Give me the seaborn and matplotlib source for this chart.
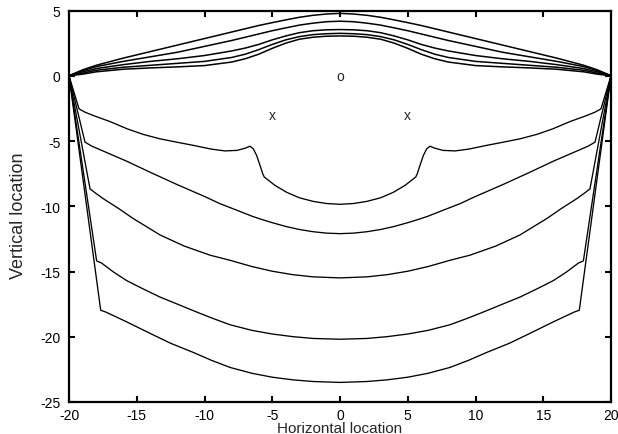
import matplotlib
matplotlib.use("Agg")
import matplotlib.pyplot as plt
import numpy as np
import pandas as pd
import seaborn as sns

# Upper field lines share one x grid
upper_x = [-20, -19, -18, -16, -14, -12, -10, -8, -7, -6, -5, -4, -3, -2, -1, 0,
           1, 2, 3, 4, 5, 6, 7, 8, 10, 12, 14, 16, 18, 19, 20]
upper_1 = [0, 0.45, 0.8, 1.35, 1.85, 2.35, 2.85, 3.35, 3.6, 3.85, 4.07, 4.28, 4.48, 4.63, 4.73, 4.78,
           4.73, 4.63, 4.48, 4.28, 4.07, 3.85, 3.6, 3.35, 2.85, 2.35, 1.85, 1.35, 0.8, 0.45, 0]
upper_2 = [0, 0.4, 0.7, 1.1, 1.45, 1.8, 2.25, 2.7, 2.95, 3.2, 3.45, 3.67, 3.88, 4.03, 4.14, 4.18,
           4.14, 4.03, 3.88, 3.67, 3.45, 3.2, 2.95, 2.7, 2.25, 1.8, 1.45, 1.1, 0.7, 0.4, 0]
upper_3 = [0, 0.3, 0.55, 0.85, 1.1, 1.3, 1.55, 1.9, 2.12, 2.4, 2.75, 3.05, 3.3, 3.45, 3.52, 3.54,
           3.52, 3.45, 3.3, 3.05, 2.75, 2.4, 2.12, 1.9, 1.55, 1.3, 1.1, 0.85, 0.55, 0.3, 0]
upper_4 = [0, 0.2, 0.42, 0.65, 0.8, 0.95, 1.1, 1.4, 1.65, 2.0, 2.4, 2.75, 3.0, 3.15, 3.22, 3.25,
           3.22, 3.15, 3.0, 2.75, 2.4, 2.0, 1.65, 1.4, 1.1, 0.95, 0.8, 0.65, 0.42, 0.2, 0]
upper_5 = [0, 0.12, 0.3, 0.5, 0.6, 0.68, 0.78, 1.05, 1.3, 1.65, 2.1, 2.5, 2.8, 2.95, 3.03, 3.05,
           3.03, 2.95, 2.8, 2.5, 2.1, 1.65, 1.3, 1.05, 0.78, 0.68, 0.6, 0.5, 0.3, 0.12, 0]

# Lower field lines, each with its own x samples
lower_1_x = [-20, -19.26, -18.8, -18.2, -17, -15.7, -14.5, -13.3, -12, -10.8, -9.5, -8.5, -7.6, -7.0,
             -6.64, -6.4, -6.15, -5.9, -5.7, -5.59, -4.8, -3.94, -3, -1.97, -1, 0,
             1, 1.97, 3, 3.94, 4.8, 5.59, 5.7, 5.9, 6.15, 6.4, 6.64, 7.0, 7.6, 8.5, 9.5, 10.8, 12,
             13.3, 14.5, 15.7, 17, 18.2, 18.8, 19.26, 20]
lower_1_y = [0, -2.54, -2.8, -3.05, -3.5, -4.07, -4.5, -4.83, -5.1, -5.34, -5.62, -5.76, -5.72, -5.55,
             -5.4, -5.6, -6.11, -6.88, -7.51, -7.76, -8.4, -8.93, -9.35, -9.63, -9.79, -9.85,
             -9.79, -9.63, -9.35, -8.93, -8.4, -7.76, -7.51, -6.88, -6.11, -5.6, -5.4, -5.55, -5.72,
             -5.76, -5.62, -5.34, -5.1, -4.83, -4.5, -4.07, -3.5, -3.05, -2.8, -2.54, 0]

lower_2_x = [-20, -18.82, -18.3, -17.3, -15.74, -14, -12, -10, -8.86, -7.5, -6.4, -5.2, -4, -3, -2,
             -1, 0, 1, 2, 3, 4, 5.2, 6.4, 7.5, 8.86, 10, 12, 14, 15.74, 17.3, 18.3, 18.82, 20]
lower_2_y = [0, -5.09, -5.4, -5.85, -6.55, -7.4, -8.35, -9.25, -9.8, -10.35, -10.8, -11.2, -11.55,
             -11.78, -11.95, -12.06, -12.1, -12.06, -11.95, -11.78, -11.55, -11.2, -10.8, -10.35,
             -9.8, -9.25, -8.35, -7.4, -6.55, -5.85, -5.4, -5.09, 0]

lower_3_x = [-20, -18.45, -18.1, -17.47, -16.3, -15.25, -13.28, -11.5, -9.59, -8.12, -6.5, -5, -3.5,
             -2, 0, 2, 3.5, 5, 6.5, 8.12, 9.59, 11.5, 13.28, 15.25, 16.3, 17.47, 18.1, 18.45, 20]
lower_3_y = [0, -8.66, -8.95, -9.42, -10.2, -10.95, -12.2, -13.05, -13.75, -14.14, -14.62, -14.98,
             -15.24, -15.41, -15.49, -15.41, -15.24, -14.98, -14.62, -14.14, -13.75, -13.05, -12.2,
             -10.95, -10.2, -9.42, -8.95, -8.66, 0]

lower_4_x = [-20, -17.96, -17.6, -16.7, -15.74, -14.5, -13.3, -12, -10.83, -9.5, -8.12, -6.5, -5,
             -3.5, -2, 0, 2, 3.5, 5, 6.5, 8.12, 9.5, 10.83, 12, 13.3, 14.5, 15.74, 16.7, 17.6, 17.96, 20]
lower_4_y = [0, -14.19, -14.35, -15.05, -15.7, -16.35, -16.95, -17.5, -18.0, -18.55, -19.08, -19.51,
             -19.79, -19.99, -20.13, -20.19, -20.13, -19.99, -19.79, -19.51, -19.08, -18.55, -18.0,
             -17.5, -16.95, -16.35, -15.7, -15.05, -14.35, -14.19, 0]

lower_5_x = [-20, -17.66, -17.3, -15.74, -14, -12.5, -10.83, -9.5, -8.12, -6.5, -5, -3.5, -2, 0,
             2, 3.5, 5, 6.5, 8.12, 9.5, 10.83, 12.5, 14, 15.74, 17.3, 17.66, 20]
lower_5_y = [0, -17.97, -18.1, -18.86, -19.75, -20.5, -21.2, -21.8, -22.35, -22.8, -23.1, -23.3,
             -23.43, -23.5, -23.43, -23.3, -23.1, -22.8, -22.35, -21.8, -21.2, -20.5, -19.75,
             -18.86, -18.1, -17.97, 0]

# Point charges marked in the field
charge_x = [0, -5, 5]
charge_y = [0, -3, -3]
charge_labels = ["o", "x", "x"]

x_ticks = [-20, -15, -10, -5, 0, 5, 10, 15, 20]
y_ticks = [-25, -20, -15, -10, -5, 0, 5]

frames = []
for i, ys in enumerate([upper_1, upper_2, upper_3, upper_4, upper_5]):
    frames.append(pd.DataFrame({"x": upper_x, "y": ys, "line": f"u{i}", "group": "upper"}))
for i, (xs, ys) in enumerate([(lower_1_x, lower_1_y), (lower_2_x, lower_2_y), (lower_3_x, lower_3_y),
                              (lower_4_x, lower_4_y), (lower_5_x, lower_5_y)]):
    frames.append(pd.DataFrame({"x": xs, "y": ys, "line": f"l{i}", "group": "lower"}))
lines = pd.concat(frames, ignore_index=True)

sns.set_style("ticks")
plt.rcParams["font.family"] = ["Liberation Sans", "DejaVu Sans"]
plt.rcParams["axes.unicode_minus"] = False

fig = plt.figure(figsize=(6.18, 4.35), dpi=100)
ax = fig.add_axes([69 / 618, (435 - 403) / 435, 542 / 618, 391.5 / 435])

sns.lineplot(data=lines[lines["group"] == "upper"], x="x", y="y", units="line", estimator=None,
             sort=False, color="black", linewidth=1.1, ax=ax)
sns.lineplot(data=lines[lines["group"] == "lower"], x="x", y="y", units="line", estimator=None,
             sort=False, color="black", linewidth=0.95, ax=ax)

for cx, cy, lab in zip(charge_x, charge_y, charge_labels):
    ax.text(cx, cy, lab, ha="center", va="center", fontsize=10)

ax.set_xlim(-20, 20)
ax.set_ylim(-25, 5)
ax.set_xticks(x_ticks)
ax.set_yticks(y_ticks)
ax.set_xticklabels([str(t) for t in x_ticks])
ax.set_yticklabels([str(t) for t in y_ticks])
ax.tick_params(direction="in", length=4, width=1.5, labelsize=10, top=True, right=True,
               labeltop=False, labelright=False, colors="black")
ax.tick_params(axis="x", pad=4)
ax.tick_params(axis="y", pad=6)
for s in ax.spines.values():
    s.set_linewidth(1.6)
    s.set_color("black")

ax.set_xlabel("Horizontal location", fontsize=11)
ax.set_ylabel("Vertical location", fontsize=13)
ax.xaxis.set_label_coords(0.5, -0.048)
ax.yaxis.set_label_coords(-0.077, 0.478)

fig.savefig("out.png", dpi=100)
